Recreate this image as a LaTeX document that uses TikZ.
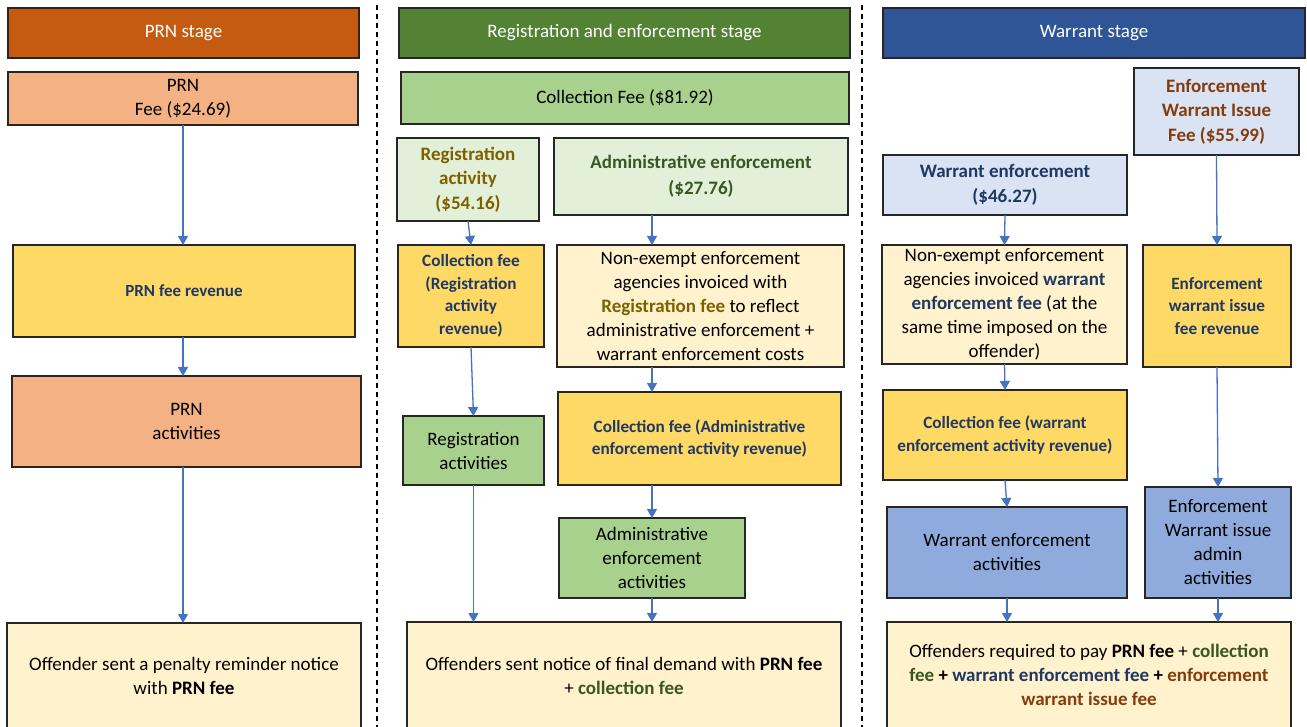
\documentclass[tikz,border=0pt]{standalone}
\usepackage{fontspec}
\setmainfont{Carlito}
\usetikzlibrary{arrows.meta}

\definecolor{hdrorange}{HTML}{C55A11}
\definecolor{hdrgreen}{HTML}{548235}
\definecolor{hdrblue}{HTML}{2F5597}
\definecolor{ltorange}{HTML}{F4B183}
\definecolor{ltgreen}{HTML}{A9D18E}
\definecolor{palegreen}{HTML}{E2F0D9}
\definecolor{paleblue}{HTML}{DAE3F3}
\definecolor{midblue}{HTML}{8FAADC}
\definecolor{feeyellow}{HTML}{FFD966}
\definecolor{cream}{HTML}{FFF2CC}
\definecolor{boxline}{HTML}{262626}
\definecolor{arrowblue}{HTML}{4472C4}
\definecolor{dkblue}{HTML}{1F3864}
\definecolor{dkgreen}{HTML}{385723}
\definecolor{olivetext}{HTML}{7F6000}
\definecolor{feebrown}{HTML}{843C0C}

% box from its corners: name, style, x1, y1, x2, y2, text
\newcommand\rbox[7]{%
  \node[#2, minimum width={(#5-(#3))*1pt}, minimum height={(#6-(#4))*1pt}]
    (#1) at ({(#3+#5)/2},{(#4+#6)/2}) {#7};}

\begin{document}
\begin{tikzpicture}[x=1pt,y=-1pt,
  box/.style={draw=boxline, line width=1.4pt, inner sep=0pt, outer sep=0pt,
    align=center, font=\fontsize{19}{24}\selectfont},
  hdr/.style={box, text=white, font=\fontsize{19}{23}\selectfont},
  boldbox/.style={box, font=\fontsize{19}{24.5}\bfseries\selectfont},
  smallbold/.style={box, text=dkblue, font=\fontsize{17.2}{22.5}\bfseries\selectfont},
  arr/.style={draw=arrowblue, line width=1.3pt, -{Triangle[width=10pt,length=9pt]}},
  sep/.style={line width=1.2pt, dash pattern=on 5pt off 4pt}
]
\useasboundingbox (0,0) rectangle (1307,727);
\clip (0,0) rectangle (1307,727);

% stage headers
\rbox{h1}{hdr, fill=hdrorange}{8}{8}{359}{58}{PRN stage}
\rbox{h2}{hdr, fill=hdrgreen}{399}{8}{850}{58}{Registration and enforcement stage}
\rbox{h3}{hdr, fill=hdrblue}{883}{8}{1305}{58}{Warrant stage}

% stage separators
\coordinate (s1t) at (377,5);
\coordinate (s1b) at (377,727);
\coordinate (s2t) at (862,5);
\coordinate (s2b) at (862,727);
\draw[sep] (s1t) -- (s1b);
\draw[sep] (s2t) -- (s2b);

% PRN stage
\rbox{prnfee}{box, fill=ltorange}{8}{72}{358}{125}{PRN\\Fee (\$24.69)}
\rbox{prnrev}{box, fill=feeyellow, text=dkblue, font=\fontsize{17}{22}\bfseries\selectfont}{13}{245}{355}{337}{PRN fee revenue}
\rbox{prnact}{box, fill=ltorange}{12}{376}{361}{467}{PRN\\activities}
\rbox{offprn}{box, fill=cream}{7}{623}{361}{729}
  {Offender sent a penalty reminder notice\\with \textbf{PRN fee}}

% registration and enforcement stage
\rbox{colfee}{box, fill=ltgreen}{401}{72}{849}{124}{Collection Fee (\$81.92)}
\rbox{regact}{boldbox, fill=palegreen, text=olivetext}{397}{138}{539}{221}
  {Registration\\activity\\(\$54.16)}
\rbox{admenf}{boldbox, fill=palegreen, text=dkgreen, font=\fontsize{19}{26}\bfseries\selectfont}{554}{138}{848}{215}
  {Administrative enforcement\\(\$27.76)}
\rbox{colreg}{smallbold, fill=feeyellow}{398}{245}{544}{347}
  {Collection fee\\(Registration\\activity\\revenue)}
\rbox{nonexm}{box, fill=cream}{557}{245}{844}{367}
  {Non-exempt enforcement\\agencies invoiced with\\\textcolor{olivetext}{\textbf{Registration fee}} to reflect\\administrative enforcement +\\warrant enforcement costs}
\rbox{regacts}{box, fill=ltgreen}{403}{416}{544}{485}{Registration\\activities}
\rbox{coladm}{smallbold, fill=feeyellow}{558}{392}{841}{485}
  {Collection fee (Administrative\\enforcement activity revenue)}
\rbox{admacts}{box, fill=ltgreen}{559}{518}{745}{598}
  {Administrative\\enforcement\\activities}
\rbox{offmid}{box, fill=cream}{407}{622}{841}{729}
  {Offenders sent notice of final demand with \textbf{PRN fee}\\+ \textcolor{dkgreen}{\textbf{collection fee}}}

% warrant stage
\rbox{ewif}{boldbox, fill=paleblue, text=feebrown}{1134}{68}{1299}{155}
  {Enforcement\\Warrant Issue\\Fee (\$55.99)}
\rbox{warenf}{boldbox, fill=paleblue, text=dkblue}{883}{155}{1127}{215}
  {Warrant enforcement\\(\$46.27)}
\rbox{nonexw}{box, fill=cream}{882}{245}{1127}{364}
  {Non-exempt enforcement\\agencies invoiced \textcolor{dkblue}{\textbf{warrant}}\\\textcolor{dkblue}{\textbf{enforcement fee}} (at the\\same time imposed on the\\offender)}
\rbox{ewirev}{smallbold, fill=feeyellow}{1143}{245}{1291}{367}
  {Enforcement\\warrant issue\\fee revenue}
\rbox{colwar}{smallbold, fill=feeyellow}{883}{390}{1127}{480}
  {Collection fee (warrant\\enforcement activity revenue)}
\rbox{weacts}{box, fill=midblue}{887}{507}{1127}{598}
  {Warrant enforcement\\activities}
\rbox{ewiadm}{box, fill=midblue}{1145}{487}{1291}{598}
  {Enforcement\\Warrant issue\\admin\\activities}
\rbox{offwar}{box, fill=cream}{887}{622}{1291}{728}
  {Offenders required to pay \textbf{PRN fee} + \textcolor{dkgreen}{\textbf{collection}}\\\textcolor{dkgreen}{\textbf{fee}} \textbf{+} \textcolor{dkblue}{\textbf{warrant enforcement fee}} \textbf{+} \textcolor{feebrown}{\textbf{enforcement}}\\\textcolor{feebrown}{\textbf{warrant issue fee}}}

% connectors: PRN stage
\draw[arr] (prnfee.south) -- (prnrev.north -| prnfee.south);
\draw[arr] (prnrev.south -| prnfee.south) -- (prnact.north -| prnfee.south);
\draw[arr] (prnact.south -| prnfee.south) -- (offprn.north -| prnfee.south);

% connectors: registration and enforcement stage
\draw[arr] (regact.south) -- (colreg.north);
\draw[arr] (colreg.south) -- (regacts.north);
\draw[arr] (regacts.south) -- (offmid.north -| regacts.south);
\draw[arr] (admenf.south -| admacts.north) -- (nonexm.north -| admacts.north);
\draw[arr] (nonexm.south -| admacts.north) -- (coladm.north -| admacts.north);
\draw[arr] (coladm.south -| admacts.north) -- (admacts.north);
\draw[arr] (admacts.south) -- (offmid.north -| admacts.south);

% connectors: warrant stage
\draw[arr] (warenf.south) -- (nonexw.north);
\draw[arr] (nonexw.south) -- (colwar.north);
\draw[arr] (colwar.south) -- (weacts.north);
\draw[arr] (weacts.south) -- (offwar.north -| weacts.south);
\draw[arr] (ewif.south) -- (ewirev.north);
\draw[arr] (ewirev.south) -- (ewiadm.north);
\draw[arr] (ewiadm.south) -- (offwar.north -| ewiadm.south);
\end{tikzpicture}
\end{document}
